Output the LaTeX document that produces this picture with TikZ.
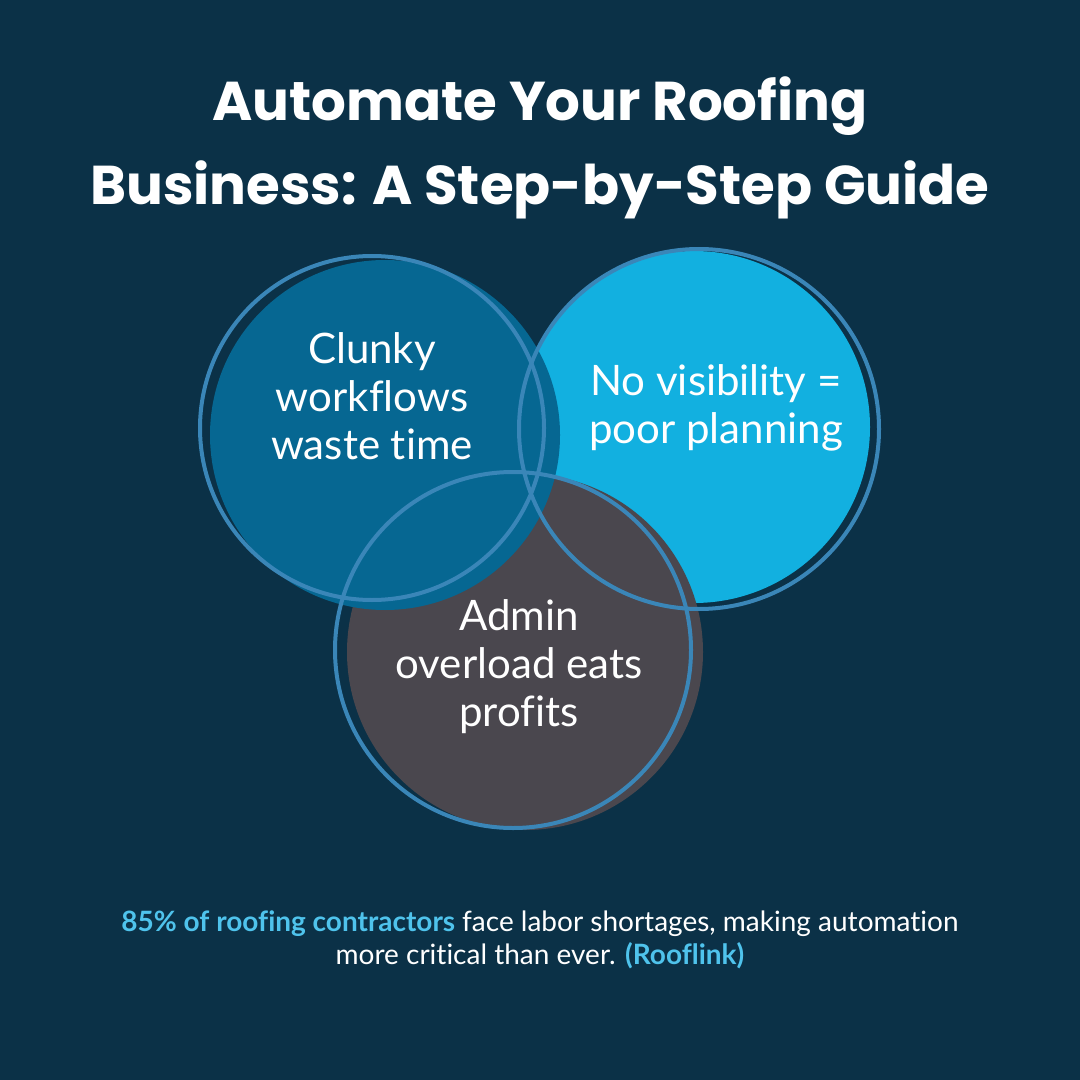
\documentclass[tikz,border=0pt]{standalone}
\usepackage{fontspec}
\setmainfont{Lato}[Ligatures=NoCommon]
\newfontfamily\titlefont{Poppins}
\definecolor{navy}{HTML}{0B3147}
\definecolor{ringblue}{HTML}{3A86B8}
\definecolor{deepblue}{HTML}{066792}
\definecolor{skyblue}{HTML}{12B0E0}
\definecolor{slategrey}{HTML}{4A474E}
\definecolor{accent}{HTML}{4FC3EC}
\tikzset{
  ring/.style={draw=ringblue, line width=3pt},
  bubbletext/.style={text=white, align=center, font=\fontsize{31.5}{36}\selectfont},
}
\begin{document}
\begin{tikzpicture}[x=0.75pt,y=0.75pt,yscale=-1,xscale=1]
\fill[navy] (0,0) rectangle (1080,1080);
\useasboundingbox (0,0) rectangle (1080,1080);

% title
\node[text=white, align=center, font=\titlefont\bfseries\fontsize{41}{63}\selectfont] (title) at (540,148)
  {Automate Your Roofing\\Business: A Step-by-Step Guide};

% filled discs
\fill[skyblue] (694,427) circle (176);
\fill[slategrey] (525,652) circle (178);
\fill[deepblue] (385,435) circle (175);

% rings
\draw[ring] (372,428) circle (172);
\draw[ring] (699,429) circle (180);
\draw[ring] (513,650) circle (178);

% labels
\node[bubbletext] (clunky) at (372,396) {Clunky\\workflows\\waste time};
\node[bubbletext] (visibility) at (716,408) {No visibility =\\poor planning};
\node[bubbletext] (admin) at (519,667) {Admin\\overload eats\\profits};

% footer
\node[text=white, align=center, font=\fontsize{21}{25}\selectfont] (footer) at (540,940)
  {{\color{accent}\bfseries 85\% of roofing contractors} face labor shortages, making automation\\
   more critical than ever. {\color{accent}\bfseries(Rooflink)}};
\end{tikzpicture}
\end{document}
